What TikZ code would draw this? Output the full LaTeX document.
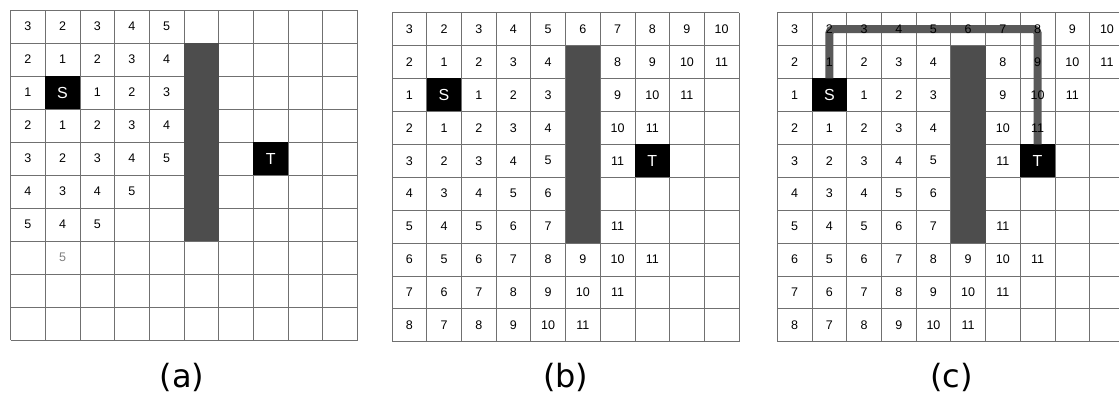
\documentclass[tikz,border=0pt]{standalone}
\usepackage{fontspec}
\setmainfont{Liberation Sans}
\newfontfamily\labfont{DejaVu Sans}
\definecolor{gridc}{HTML}{707070}
\definecolor{obsc}{HTML}{4D4D4D}
\definecolor{pathc}{HTML}{595959}
\definecolor{faintc}{HTML}{808080}
\pgfdeclarelayer{fg}
\pgfsetlayers{main,fg}
\def\cw{34.7}
\def\nomark{x}
\tikzset{
  gridline/.style={draw=gridc, line width=0.8pt},
  obstacle/.style={fill=obsc},
  endcell/.style={fill=black, text=white, minimum width=34.7pt, minimum height=33pt,
    inner sep=0pt, outer sep=0pt, font=\fontsize{16}{18}\selectfont},
  num/.style={inner sep=0pt, font=\fontsize{12.5}{15}\selectfont},
  caption/.style={anchor=base, font=\labfont\fontsize{32}{36}\selectfont},
  route/.style={draw=pathc, line width=8pt, rounded corners=4pt}
}
% #1 prefix, #2 x0, #3 y0, #4 cell height
\newcommand\drawgridbase[4]{%
  \foreach \i in {0,...,10}{
    \draw[gridline] ({#2+\i*\cw},#3) -- ({#2+\i*\cw},{#3+10*#4});
    \draw[gridline] (#2,{#3+\i*#4}) -- ({#2+10*\cw},{#3+\i*#4});
  }
  \fill[obstacle] ({#2+5*\cw},{#3+#4}) rectangle ({#2+6*\cw},{#3+7*#4});
  \node[endcell] (#1-S) at ({#2+1.5*\cw},{#3+2.5*#4}) {S};
  \node[endcell] (#1-T) at ({#2+7.5*\cw},{#3+4.5*#4}) {T};
}
% #1 prefix, #2 x0, #3 y0, #4 cell height, #5 data
\newcommand\drawnums[5]{%
  \begin{pgfonlayer}{fg}
  \foreach \rowlist [count=\r from 0] in #5 {
    \foreach \v [count=\c from 0] in \rowlist {
      \ifx\v\nomark\else
        \node[num] (#1-\r-\c) at ({#2+(\c+0.5)*\cw},{#3+(\r+0.5)*#4}) {\v};
      \fi
    }
  }
  \end{pgfonlayer}
}
\def\adata{{3,2,3,4,5,x,x,x,x,x},{2,1,2,3,4,x,x,x,x,x},{1,x,1,2,3,x,x,x,x,x},{2,1,2,3,4,x,x,x,x,x},{3,2,3,4,5,x,x,x,x,x},{4,3,4,5,x,x,x,x,x,x},{5,4,5,x,x,x,x,x,x,x}}
\def\bdata{{3,2,3,4,5,6,7,8,9,10},{2,1,2,3,4,x,8,9,10,11},{1,x,1,2,3,x,9,10,11,x},{2,1,2,3,4,x,10,11,x,x},{3,2,3,4,5,x,11,x,x,x},{4,3,4,5,6,x,x,x,x,x},{5,4,5,6,7,x,11,x,x,x},{6,5,6,7,8,9,10,11,x,x},{7,6,7,8,9,10,11,x,x,x},{8,7,8,9,10,11,x,x,x,x}}
\begin{document}
\begin{tikzpicture}[x=1pt,y=-1pt]
\clip (0,0) rectangle (1119,394);
\fill[white] (0,0) rectangle (1119,394);
% grid (a)
\drawgridbase{a}{10.5}{10}{33}
\drawnums{a}{10.5}{10}{33}{\adata}
\begin{pgfonlayer}{fg}
\node[num, text=faintc] (a-7-1) at ({10.5+1.5*\cw},{10+7.5*33}) {5};
\end{pgfonlayer}
% grid (b)
\drawgridbase{b}{392}{12.7}{32.9}
\drawnums{b}{392}{12.7}{32.9}{\bdata}
% grid (c)
\drawgridbase{c}{777.3}{12.7}{32.9}
\drawnums{c}{777.3}{12.7}{32.9}{\bdata}
\draw[route] (c-S.north) -- (c-0-1.center) -- (c-0-7.center) -- (c-T.north);
% captions
\node[caption] (capa) at (182,387) {(a)};
\node[caption] (capb) at (565.7,387) {(b)};
\node[caption] (capc) at (951.5,387) {(c)};
\end{tikzpicture}
\end{document}
